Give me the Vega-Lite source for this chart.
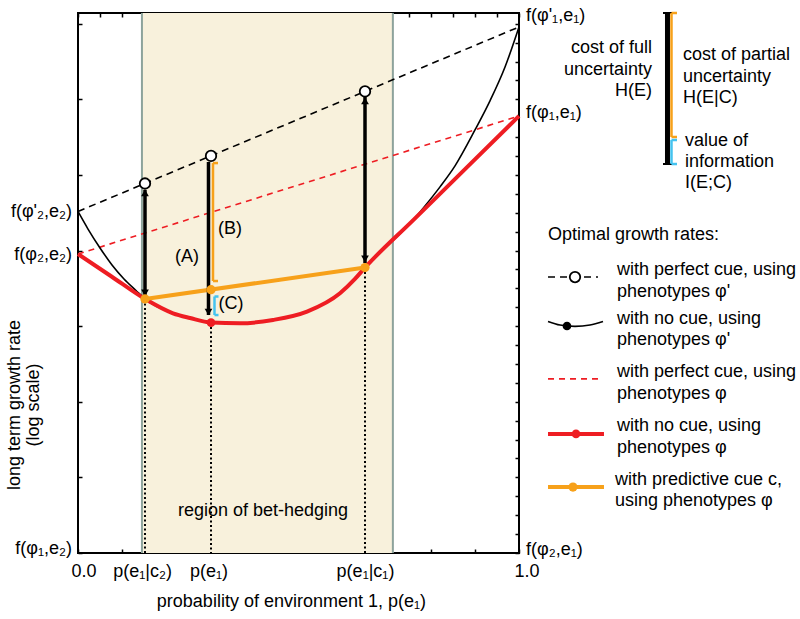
{
  "$schema": "https://vega.github.io/schema/vega-lite/v6.json",
  "width": 441,
  "height": 540,
  "autosize": {"type": "none"},
  "padding": {"left": 78, "top": 13, "right": 281, "bottom": 66},
  "background": "white",
  "config": {
    "view": {"stroke": "black", "strokeWidth": 2},
    "axis": {"labels": false, "domain": false, "grid": false, "ticks": true, "tickSize": -4, "tickColor": "black", "tickWidth": 1.5},
    "text": {"font": "Liberation Sans", "fontSize": 18, "baseline": "middle", "color": "black"}
  },
  "datasets": {
    "shade": [{"x": 0.145, "x2": 0.714, "y": 0, "y2": 28.57}],
    "edges": [{"x": 0.145, "y": 0, "y2": 28.57}, {"x": 0.714, "y": 0, "y2": 28.57}],
    "dotted": [{"x": 0.1519, "y": 13.44}, {"x": 0.3016, "y": 12.19}, {"x": 0.6508, "y": 15.10}],
    "bdash": [{"g": "m", "x": 0, "y": 18.07}, {"g": "m", "x": 1, "y": 27.83}, {"g": "l", "x": 1.0658, "y": 14.60}, {"g": "l", "x": 1.1791, "y": 14.60}],
    "rdash": [{"g": "m", "x": 0, "y": 15.82}, {"g": "m", "x": 1, "y": 23.12}, {"g": "l", "x": 1.0658, "y": 9.21}, {"g": "l", "x": 1.1791, "y": 9.21}],
    "bcurve": [
      {"g": "m", "x": 0, "y": 18.07}, {"g": "m", "x": 0.0227, "y": 17.14}, {"g": "m", "x": 0.0499, "y": 16.14}, {"g": "m", "x": 0.0771, "y": 15.24},
      {"g": "m", "x": 0.1043, "y": 14.50}, {"g": "m", "x": 0.1315, "y": 13.89}, {"g": "m", "x": 0.1519, "y": 13.44}, {"g": "m", "x": 0.2154, "y": 12.68},
      {"g": "m", "x": 0.254, "y": 12.43}, {"g": "m", "x": 0.3016, "y": 12.19}, {"g": "m", "x": 0.3673, "y": 12.15}, {"g": "m", "x": 0.4422, "y": 12.33},
      {"g": "m", "x": 0.5193, "y": 12.77}, {"g": "m", "x": 0.5941, "y": 13.74}, {"g": "m", "x": 0.6281, "y": 14.50}, {"g": "m", "x": 0.6508, "y": 15.10},
      {"g": "m", "x": 0.7596, "y": 17.60}, {"g": "m", "x": 0.7868, "y": 18.36}, {"g": "m", "x": 0.8209, "y": 19.37}, {"g": "m", "x": 0.8549, "y": 20.48},
      {"g": "m", "x": 0.9002, "y": 22.38}, {"g": "m", "x": 0.9342, "y": 23.92}, {"g": "m", "x": 0.9683, "y": 25.71}, {"g": "m", "x": 1, "y": 27.83},
      {"g": "l", "x": 1.0658, "y": 12.25}, {"g": "l", "x": 1.093, "y": 12.06}, {"g": "l", "x": 1.127, "y": 11.99}, {"g": "l", "x": 1.161, "y": 12.06}, {"g": "l", "x": 1.1905, "y": 12.25}
    ],
    "rcurve": [
      {"g": "m", "x": 0, "y": 15.82}, {"g": "m", "x": 0.076, "y": 14.63}, {"g": "m", "x": 0.1519, "y": 13.44}, {"g": "m", "x": 0.2154, "y": 12.68},
      {"g": "m", "x": 0.254, "y": 12.43}, {"g": "m", "x": 0.3016, "y": 12.19}, {"g": "m", "x": 0.3673, "y": 12.15}, {"g": "m", "x": 0.4422, "y": 12.33},
      {"g": "m", "x": 0.5193, "y": 12.77}, {"g": "m", "x": 0.5941, "y": 13.74}, {"g": "m", "x": 0.6281, "y": 14.50}, {"g": "m", "x": 0.6508, "y": 15.10},
      {"g": "m", "x": 0.7596, "y": 17.60}, {"g": "m", "x": 0.88, "y": 20.36}, {"g": "m", "x": 1, "y": 23.12},
      {"g": "l", "x": 1.0658, "y": 6.30}, {"g": "l", "x": 1.1927, "y": 6.30}
    ],
    "orange": [{"g": "m", "x": 0.1519, "y": 13.44}, {"g": "m", "x": 0.6508, "y": 15.10}, {"g": "l", "x": 1.0658, "y": 3.49}, {"g": "l", "x": 1.1927, "y": 3.49}],
    "shafts": [
      {"x": 0.1519, "y": 13.60, "y2": 19.21},
      {"x": 0.2959, "y": 12.59, "y2": 20.69},
      {"x": 0.6508, "y": 15.34, "y2": 24.13}
    ],
    "heads": [
      {"x": 0.1519, "y": 19.05, "d": "up"}, {"x": 0.1519, "y": 13.76, "d": "down"},
      {"x": 0.2959, "y": 12.75, "d": "down"},
      {"x": 0.6508, "y": 23.92, "d": "up"}, {"x": 0.6508, "y": 15.56, "d": "down"}
    ],
    "bigbar": [{"x": 1.3367, "x2": 1.3367, "y": 20.58, "y2": 28.57}],
    "bigcaps": [{"x": 1.3265, "x2": 1.3469, "y": 28.57, "y2": 28.57}, {"x": 1.3265, "x2": 1.3469, "y": 20.58, "y2": 20.58}],
    "obars": [
      {"x": 0.3061, "x2": 0.3061, "y": 14.39, "y2": 20.63},
      {"x": 0.3061, "x2": 0.3175, "y": 20.63, "y2": 20.63},
      {"x": 0.3061, "x2": 0.3175, "y": 14.39, "y2": 14.39},
      {"x": 1.3458, "x2": 1.3458, "y": 22.01, "y2": 28.57},
      {"x": 1.3458, "x2": 1.3583, "y": 28.57, "y2": 28.57},
      {"x": 1.3458, "x2": 1.3583, "y": 22.01, "y2": 22.01}
    ],
    "cbars": [
      {"x": 0.3095, "x2": 0.3095, "y": 12.59, "y2": 13.57},
      {"x": 0.3095, "x2": 0.3186, "y": 13.57, "y2": 13.57},
      {"x": 0.3095, "x2": 0.3186, "y": 12.59, "y2": 12.59},
      {"x": 1.3458, "x2": 1.3458, "y": 20.58, "y2": 21.85},
      {"x": 1.3458, "x2": 1.3583, "y": 21.85, "y2": 21.85},
      {"x": 1.3458, "x2": 1.3583, "y": 20.58, "y2": 20.58}
    ],
    "open": [{"x": 0.1519, "y": 19.55}, {"x": 0.3016, "y": 21.01}, {"x": 0.6508, "y": 24.42}, {"x": 1.127, "y": 14.60}],
    "dotsO": [{"x": 0.1519, "y": 13.44}, {"x": 0.3016, "y": 13.93}, {"x": 0.6508, "y": 15.10}, {"x": 1.1224, "y": 3.49}],
    "dotsR": [{"x": 0.3016, "y": 12.19}, {"x": 1.1293, "y": 6.30}],
    "dotsK": [{"x": 1.1088, "y": 12.01}],
    "txtC": [
      {"x": 0.2472, "y": 15.66, "t": "(A)"},
      {"x": 0.3447, "y": 17.14, "t": "(B)"},
      {"x": 0.3469, "y": 13.17, "t": "(C)"},
      {"x": 0.4195, "y": 2.22, "t": "region of bet-hedging"},
      {"x": 0.0136, "y": -0.99, "t": "0.0"},
      {"x": 0.1463, "y": -0.99, "t": "p(e₁|c₂)"},
      {"x": 0.297, "y": -0.99, "t": "p(e₁)"},
      {"x": 0.652, "y": -0.99, "t": "p(e₁|c₁)"},
      {"x": 1.018, "y": -0.99, "t": "1.0"},
      {"x": 0.484, "y": -2.58, "t": "probability of environment 1, p(e₁)"}
    ],
    "txtL": [
      {"x": 1.0159, "y": 28.41, "t": "f(φ'₁,e₁)"},
      {"x": 1.0159, "y": 23.28, "t": "f(φ₁,e₁)"},
      {"x": 1.0159, "y": 0.16, "t": "f(φ₂,e₁)"},
      {"x": 1.3719, "y": 26.35, "t": "cost of partial"},
      {"x": 1.3719, "y": 25.19, "t": "uncertainty"},
      {"x": 1.3719, "y": 24.07, "t": "H(E|C)"},
      {"x": 1.3764, "y": 21.80, "t": "value of"},
      {"x": 1.3764, "y": 20.69, "t": "information"},
      {"x": 1.3764, "y": 19.58, "t": "I(E;C)"},
      {"x": 1.0658, "y": 16.83, "t": "Optimal growth rates:"},
      {"x": 1.2222, "y": 14.97, "t": "with perfect cue, using"},
      {"x": 1.2222, "y": 13.81, "t": "phenotypes φ'"},
      {"x": 1.2222, "y": 12.38, "t": "with no cue, using"},
      {"x": 1.2222, "y": 11.27, "t": "phenotypes φ'"},
      {"x": 1.2222, "y": 9.58, "t": "with perfect cue, using"},
      {"x": 1.2222, "y": 8.41, "t": "phenotypes φ"},
      {"x": 1.2222, "y": 6.72, "t": "with no cue, using"},
      {"x": 1.2222, "y": 5.56, "t": "phenotypes φ"},
      {"x": 1.2177, "y": 3.86, "t": "with predictive cue c,"},
      {"x": 1.2177, "y": 2.75, "t": "using phenotypes φ"}
    ],
    "txtR": [
      {"x": -0.0136, "y": 18.04, "t": "f(φ'₂,e₂)"},
      {"x": -0.0136, "y": 15.77, "t": "f(φ₂,e₂)"},
      {"x": -0.0136, "y": 0.21, "t": "f(φ₁,e₂)"},
      {"x": 1.3016, "y": 26.72, "t": "cost of full"},
      {"x": 1.3016, "y": 25.56, "t": "uncertainty"},
      {"x": 1.3016, "y": 24.44, "t": "H(E)"}
    ],
    "txtV": [
      {"x": -0.1429, "y": 7.83, "t": "long term growth rate"},
      {"x": -0.0998, "y": 7.83, "t": "(log scale)"}
    ]
  },
  "layer": [
    {
      "layer": [
        {
          "data": {"name": "shade"},
          "mark": {"type": "rect", "fill": "#f8f1dc"},
          "encoding": {
            "x": {"field": "x", "type": "quantitative", "scale": {"domain": [0, 1], "nice": false, "zero": false},
                  "axis": {"orient": "bottom", "title": null, "values": [0,0.05,0.1,0.15,0.2,0.25,0.3,0.35,0.4,0.45,0.5,0.55,0.6,0.65,0.7,0.75,0.8,0.85,0.9,0.95,1]}},
            "x2": {"field": "x2"},
            "y": {"field": "y", "type": "quantitative", "scale": {"domain": [0, 28.57], "nice": false, "zero": false},
                  "axis": {"orient": "left", "title": null, "values": [0,1,2,3,4,5,6,7,8,9,10,11,12,13,14,15,16,17,18,19,20,21,22,23,24,25,26,27,28]}},
            "y2": {"field": "y2"}
          }
        },
        {
          "data": {"name": "edges"},
          "mark": {"type": "rule", "stroke": "#8da39c", "strokeWidth": 2},
          "encoding": {"x": {"field": "x", "type": "quantitative"}, "y": {"field": "y", "type": "quantitative"}, "y2": {"field": "y2"}}
        },
        {
          "data": {"name": "dotted"},
          "mark": {"type": "rule", "stroke": "black", "strokeWidth": 2, "strokeDash": [2, 2.5]},
          "encoding": {"x": {"field": "x", "type": "quantitative"}, "y": {"field": "y", "type": "quantitative"}, "y2": {"datum": 0}}
        },
        {
          "data": {"name": "bdash"},
          "mark": {"type": "line", "stroke": "black", "strokeWidth": 1.6, "strokeDash": [7, 5]},
          "encoding": {"x": {"field": "x", "type": "quantitative"}, "y": {"field": "y", "type": "quantitative"}, "detail": {"field": "g"}}
        },
        {
          "data": {"name": "rdash"},
          "mark": {"type": "line", "stroke": "#ee1d23", "strokeWidth": 1.6, "strokeDash": [6, 5]},
          "encoding": {"x": {"field": "x", "type": "quantitative"}, "y": {"field": "y", "type": "quantitative"}, "detail": {"field": "g"}}
        },
        {
          "data": {"name": "bcurve"},
          "mark": {"type": "line", "stroke": "black", "strokeWidth": 1.6, "interpolate": "monotone"},
          "encoding": {"x": {"field": "x", "type": "quantitative"}, "y": {"field": "y", "type": "quantitative"}, "detail": {"field": "g"}}
        },
        {
          "data": {"name": "rcurve"},
          "mark": {"type": "line", "stroke": "#ee1d23", "strokeWidth": 4, "interpolate": "monotone"},
          "encoding": {"x": {"field": "x", "type": "quantitative"}, "y": {"field": "y", "type": "quantitative"}, "detail": {"field": "g"}}
        },
        {
          "data": {"name": "orange"},
          "mark": {"type": "line", "stroke": "#f7a11a", "strokeWidth": 4},
          "encoding": {"x": {"field": "x", "type": "quantitative"}, "y": {"field": "y", "type": "quantitative"}, "detail": {"field": "g"}}
        },
        {
          "data": {"name": "shafts"},
          "mark": {"type": "rule", "stroke": "black", "strokeWidth": 3.5},
          "encoding": {"x": {"field": "x", "type": "quantitative"}, "y": {"field": "y", "type": "quantitative"}, "y2": {"field": "y2"}}
        },
        {
          "data": {"name": "heads"},
          "mark": {"type": "point", "filled": true, "color": "black", "size": 60, "opacity": 1},
          "encoding": {"x": {"field": "x", "type": "quantitative"}, "y": {"field": "y", "type": "quantitative"},
                       "shape": {"field": "d", "type": "nominal", "scale": {"domain": ["up", "down"], "range": ["triangle-up", "triangle-down"]}, "legend": null}}
        },
        {
          "data": {"name": "bigbar"},
          "mark": {"type": "rule", "stroke": "black", "strokeWidth": 5},
          "encoding": {"x": {"field": "x", "type": "quantitative"}, "x2": {"field": "x2"}, "y": {"field": "y", "type": "quantitative"}, "y2": {"field": "y2"}}
        },
        {
          "data": {"name": "bigcaps"},
          "mark": {"type": "rule", "stroke": "black", "strokeWidth": 2},
          "encoding": {"x": {"field": "x", "type": "quantitative"}, "x2": {"field": "x2"}, "y": {"field": "y", "type": "quantitative"}, "y2": {"field": "y2"}}
        },
        {
          "data": {"name": "obars"},
          "mark": {"type": "rule", "stroke": "#f7a11a", "strokeWidth": 2.5},
          "encoding": {"x": {"field": "x", "type": "quantitative"}, "x2": {"field": "x2"}, "y": {"field": "y", "type": "quantitative"}, "y2": {"field": "y2"}}
        },
        {
          "data": {"name": "cbars"},
          "mark": {"type": "rule", "stroke": "#45c3ef", "strokeWidth": 2.5},
          "encoding": {"x": {"field": "x", "type": "quantitative"}, "x2": {"field": "x2"}, "y": {"field": "y", "type": "quantitative"}, "y2": {"field": "y2"}}
        },
        {
          "data": {"name": "open"},
          "mark": {"type": "point", "shape": "circle", "filled": false, "fill": "white", "fillOpacity": 1, "stroke": "black", "strokeWidth": 1.8, "size": 110, "opacity": 1},
          "encoding": {"x": {"field": "x", "type": "quantitative"}, "y": {"field": "y", "type": "quantitative"}}
        },
        {
          "data": {"name": "dotsO"},
          "mark": {"type": "circle", "color": "#f7a11a", "size": 85, "opacity": 1},
          "encoding": {"x": {"field": "x", "type": "quantitative"}, "y": {"field": "y", "type": "quantitative"}}
        },
        {
          "data": {"name": "dotsR"},
          "mark": {"type": "circle", "color": "#ee1d23", "size": 75, "opacity": 1},
          "encoding": {"x": {"field": "x", "type": "quantitative"}, "y": {"field": "y", "type": "quantitative"}}
        },
        {
          "data": {"name": "dotsK"},
          "mark": {"type": "circle", "color": "black", "size": 75, "opacity": 1},
          "encoding": {"x": {"field": "x", "type": "quantitative"}, "y": {"field": "y", "type": "quantitative"}}
        },
        {
          "data": {"name": "txtC"},
          "mark": {"type": "text", "align": "center", "fontSize": 18},
          "encoding": {"x": {"field": "x", "type": "quantitative"}, "y": {"field": "y", "type": "quantitative"}, "text": {"field": "t"}}
        },
        {
          "data": {"name": "txtL"},
          "mark": {"type": "text", "align": "left", "fontSize": 18},
          "encoding": {"x": {"field": "x", "type": "quantitative"}, "y": {"field": "y", "type": "quantitative"}, "text": {"field": "t"}}
        },
        {
          "data": {"name": "txtR"},
          "mark": {"type": "text", "align": "right", "fontSize": 18},
          "encoding": {"x": {"field": "x", "type": "quantitative"}, "y": {"field": "y", "type": "quantitative"}, "text": {"field": "t"}}
        },
        {
          "data": {"name": "txtV"},
          "mark": {"type": "text", "align": "center", "angle": 270, "fontSize": 18},
          "encoding": {"x": {"field": "x", "type": "quantitative"}, "y": {"field": "y", "type": "quantitative"}, "text": {"field": "t"}}
        }
      ]
    },
    {
      "data": {"values": [{"x": 0, "y": 0}]},
      "mark": {"type": "point", "opacity": 0},
      "encoding": {
        "x": {"field": "x", "type": "quantitative", "axis": {"orient": "top", "title": null, "values": [0,0.05,0.1,0.15,0.2,0.25,0.3,0.35,0.4,0.45,0.5,0.55,0.6,0.65,0.7,0.75,0.8,0.85,0.9,0.95,1]}},
        "y": {"field": "y", "type": "quantitative", "axis": {"orient": "right", "title": null, "values": [0,1,2,3,4,5,6,7,8,9,10,11,12,13,14,15,16,17,18,19,20,21,22,23,24,25,26,27,28]}}
      }
    }
  ],
  "resolve": {"axis": {"x": "independent", "y": "independent"}}
}
